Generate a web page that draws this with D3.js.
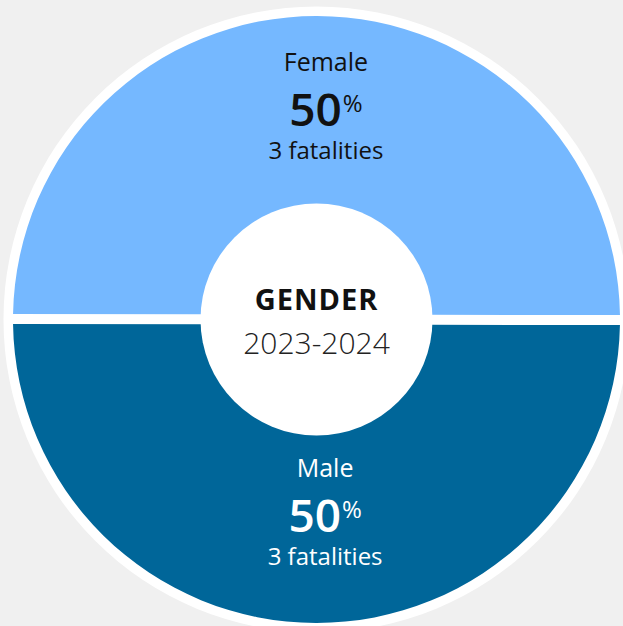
<!DOCTYPE html>
<html>
<head>
<meta charset="utf-8">
<script src="https://cdn.jsdelivr.net/npm/d3@7"></script>
<style>
  html, body { margin: 0; padding: 0; background: #f0f0f0; }
  svg { display: block; font-family: "Open Sans", "Noto Sans", sans-serif; }
</style>
</head>
<body>
<svg id="chart" width="623" height="626"></svg>
<script>
// data
var genders = ["Female", "Male"];
var shares = [50, 50];
var fatalities = [3, 3];
var title = "GENDER";
var period = "2023-2024";

var colors = { Female: "#75b8ff", Male: "#006699" };
var textColors = { Female: "#111111", Male: "#ffffff" };

var width = 623, height = 626;
var cx = 316.5, cy = 319.5;
var outerR = 303.5, innerR = 116, ringR = 313;

var svg = d3.select("#chart");

var rows = genders.map(function (g, i) {
  return { gender: g, share: shares[i], count: fatalities[i] };
});

var pie = d3.pie()
  .value(function (d) { return d.share; })
  .sort(null)
  .startAngle(-Math.PI / 2 + 0.002)
  .endAngle(Math.PI * 1.5 + 0.002);

var arc = d3.arc()
  .innerRadius(innerR - 2)
  .outerRadius(outerR)
  .padAngle(10 / outerR)
  .padRadius(outerR);

var g = svg.append("g").attr("transform", "translate(" + cx + "," + cy + ")");

// white ring behind the donut
g.append("circle").attr("r", ringR).style("fill", "#ffffff");

g.selectAll(".slice")
  .data(pie(rows))
  .enter().append("path")
  .attr("class", "slice")
  .attr("d", arc)
  .style("fill", function (d) { return colors[d.data.gender]; });

// centre hole
g.append("circle").attr("r", innerR).style("fill", "#ffffff");

// labels in each half
var labelArc = d3.arc().innerRadius(203).outerRadius(203);

var label = g.selectAll(".label")
  .data(pie(rows))
  .enter().append("g")
  .attr("class", "label")
  .attr("transform", function (d) {
    var c = labelArc.centroid(d);
    return "translate(" + (c[0] + 9) + "," + c[1] + ")";
  })
  .style("fill", function (d) { return textColors[d.data.gender]; })
  .attr("text-anchor", "middle");

label.append("text")
  .attr("y", -45.3)
  .style("font-size", "25px")
  .text(function (d) { return d.data.gender; });

var pct = label.append("text")
  .attr("y", 9.3);
pct.append("tspan")
  .style("font-size", "46px")
  .style("font-weight", "600")
  .text(function (d) { return d.data.share; });
pct.append("tspan")
  .attr("dy", -14)
  .attr("dx", 1)
  .style("font-size", "24px")
  .text("%");

label.append("text")
  .attr("y", 42.5)
  .style("font-size", "24px")
  .text(function (d) { return d.data.count + " fatalities"; });

// centre text
g.append("text")
  .attr("text-anchor", "middle")
  .attr("y", -9.5)
  .style("font-size", "29px")
  .style("font-weight", "700")
  .style("letter-spacing", "1px")
  .style("fill", "#111111")
  .text(title);

g.append("text")
  .attr("text-anchor", "middle")
  .attr("y", 34)
  .style("font-size", "30px")
  .style("font-weight", "300")
  .style("fill", "#222222")
  .text(period);
</script>
</body>
</html>
